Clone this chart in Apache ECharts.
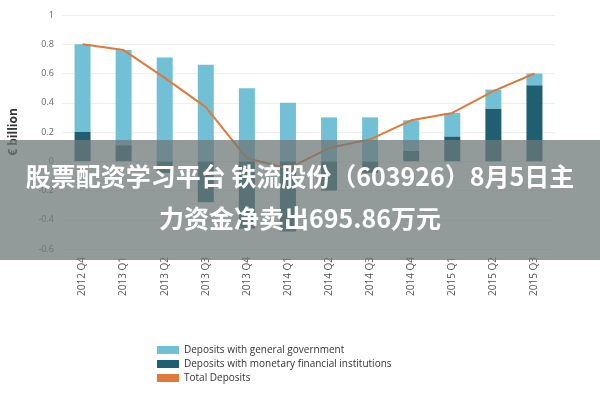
<!DOCTYPE html>
<html>
<head>
<meta charset="utf-8">
<script src="https://cdn.jsdelivr.net/npm/echarts@6/dist/echarts.min.js"></script>
<style>html,body{margin:0;padding:0;background:#fff}#chart{width:600px;height:400px}</style>
</head>
<body>
<div id="chart"></div>
<script>
var quarters = ['2012 Q4','2013 Q1','2013 Q2','2013 Q3','2013 Q4','2014 Q1','2014 Q2','2014 Q3','2014 Q4','2015 Q1','2015 Q2','2015 Q3'];
var govDeposits = [0.60, 0.65, 0.71, 0.66, 0.50, 0.40, 0.30, 0.30, 0.21, 0.16, 0.13, 0.08];
var mfiDeposits = [0.20, 0.11, -0.08, -0.28, -0.46, -0.48, -0.20, -0.08, 0.07, 0.17, 0.36, 0.52];
var totalDeposits = [0.80, 0.76, 0.57, 0.37, 0.02, -0.05, 0.09, 0.15, 0.28, 0.33, 0.48, 0.60];

var chart = echarts.init(document.getElementById('chart'));
chart.setOption({
  animation: false,
  textStyle: {fontFamily: 'Open Sans', color: '#555'},
  grid: {left: 62, right: 45, top: 15, bottom: 151},
  legend: {
    left: 152, top: 340, orient: 'vertical', itemGap: 4,
    itemWidth: 22, itemHeight: 8,
    textStyle: {fontSize: 10, color: '#333'},
    data: [
      {name: 'Deposits with general government', icon: 'rect'},
      {name: 'Deposits with monetary financial institutions', icon: 'rect'},
      {name: 'Total Deposits', icon: 'rect'}
    ]
  },
  xAxis: {
    type: 'category', data: quarters, position: 'bottom',
    axisLine: {show: false}, axisTick: {show: false},
    axisLabel: {rotate: 90, fontSize: 10, color: '#555'}
  },
  yAxis: {
    type: 'value', min: -0.6, max: 1, interval: 0.2,
    name: '€ billion', nameLocation: 'middle', nameGap: 42, nameRotate: 90,
    nameTextStyle: {fontSize: 12, fontWeight: 'bold', color: '#333'},
    axisLabel: {fontSize: 9, color: '#666', formatter: function (v) { return +v.toFixed(1) + ''; }},
    splitLine: {lineStyle: {color: '#eee'}}
  },
  series: [
    {name: 'Deposits with monetary financial institutions', type: 'bar', stack: 'd', data: mfiDeposits,
      barWidth: 16, itemStyle: {color: '#1f5f72'}},
    {name: 'Deposits with general government', type: 'bar', stack: 'd', data: govDeposits,
      barWidth: 16, itemStyle: {color: '#72c0d6'}},
    {name: 'Total Deposits', type: 'line', data: totalDeposits, symbol: 'none',
      lineStyle: {color: '#e0793a', width: 2}, itemStyle: {color: '#e0793a'}}
  ],
  graphic: [
    {type: 'rect', left: 0, top: 140, shape: {width: 600, height: 120},
      style: {fill: 'rgba(110,120,120,0.75)'}, z: 100},
    {type: 'text', left: 'center', top: 164, z: 101,
      style: {text: '股票配资学习平台 铁流股份（603926）8月5日主', fill: '#fff',
        font: 'bold 25px "Noto Sans CJK SC"'}},
    {type: 'text', left: 'center', top: 206, z: 101,
      style: {text: '力资金净卖出695.86万元', fill: '#fff',
        font: 'bold 25px "Noto Sans CJK SC"'}}
  ]
});
</script>
</body>
</html>
